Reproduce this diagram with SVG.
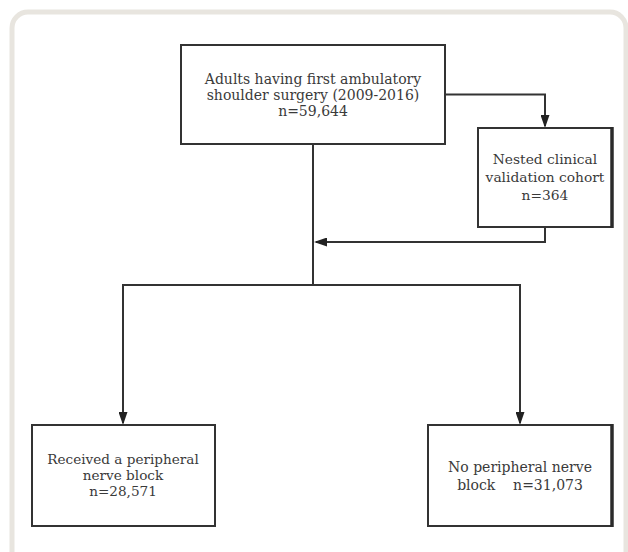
<svg xmlns="http://www.w3.org/2000/svg" width="628" height="552" viewBox="0 0 628 552">
  <style>
    .frame { fill: #ffffff; stroke: #e8e5df; stroke-width: 5; }
    .box { fill: #ffffff; stroke: #333333; stroke-width: 2; }
    .edge { stroke: #2a2a2a; stroke-width: 3.5; }
    .lbl { font-family: "DejaVu Serif", "Liberation Serif", serif; fill: #3a3a3a; text-anchor: middle; white-space: pre; }
    .conn { fill: none; stroke: #333333; stroke-width: 2; }
  </style>
  <defs>
    <marker id="arrow" viewBox="0 0 13 9" refX="11" refY="4.5" markerWidth="13" markerHeight="9" markerUnits="userSpaceOnUse" orient="auto">
      <path d="M0,0 L13,4.5 L0,9 z" fill="#222222"/>
    </marker>
  </defs>
  <rect x="0" y="0" width="628" height="552" fill="#ffffff"/>
  <rect class="frame" x="12" y="12" width="614" height="600" rx="16" ry="16"/>

  <g id="connectors">
    <path class="conn" d="M445,94.5 H545 V126" marker-end="url(#arrow)"/>
    <path class="conn" d="M545,227 V242 H316" marker-end="url(#arrow)"/>
    <path class="conn" d="M313,144 V285"/>
    <path class="conn" d="M313,285 H123 V423" marker-end="url(#arrow)"/>
    <path class="conn" d="M313,285 H520 V423" marker-end="url(#arrow)"/>
  </g>

  <g id="node-adults">
    <rect class="box" x="181" y="45" width="264" height="99"/>
    <text class="lbl" x="313" y="84" font-size="14">Adults having first ambulatory</text>
    <text class="lbl" x="313" y="100" font-size="14">shoulder surgery (2009-2016)</text>
    <text class="lbl" x="313" y="116" font-size="14">n=59,644</text>
  </g>

  <g id="node-nested">
    <rect class="box" x="478" y="128" width="134" height="99"/>
    <line class="edge" x1="612" y1="127" x2="612" y2="228"/>
    <text class="lbl" x="545" y="164" font-size="13.8">Nested clinical</text>
    <text class="lbl" x="545" y="182" font-size="13.8">validation cohort</text>
    <text class="lbl" x="545" y="200" font-size="13.8">n=364</text>
  </g>

  <g id="node-block">
    <rect class="box" x="32" y="425" width="183" height="101"/>
    <text class="lbl" x="123" y="464" font-size="13.6">Received a peripheral</text>
    <text class="lbl" x="123" y="480" font-size="13.6">nerve block</text>
    <text class="lbl" x="123" y="496" font-size="13.6">n=28,571</text>
  </g>

  <g id="node-noblock">
    <rect class="box" x="428" y="425" width="184" height="101"/>
    <line class="edge" x1="612" y1="424" x2="612" y2="527"/>
    <text class="lbl" x="520" y="472" font-size="14">No peripheral nerve</text>
    <text class="lbl" x="520" y="490" font-size="14">block    n=31,073</text>
  </g>
</svg>
